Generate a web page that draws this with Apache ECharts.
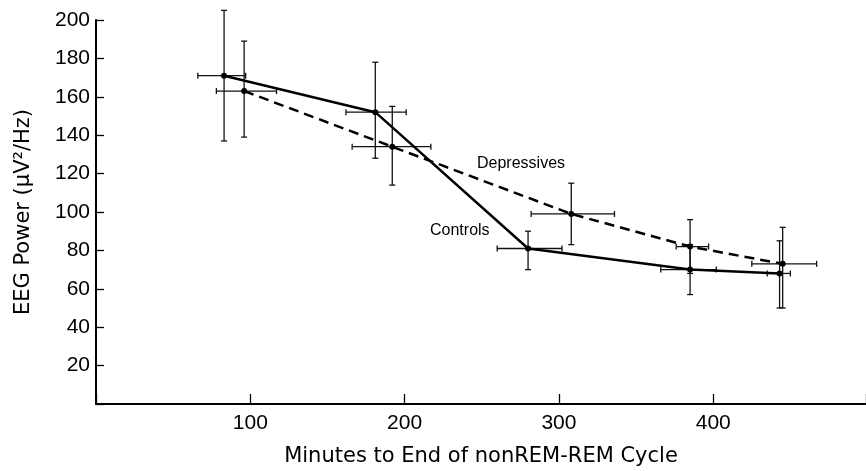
<!DOCTYPE html>
<html>
<head>
<meta charset="utf-8">
<script src="https://cdn.jsdelivr.net/npm/echarts@6/dist/echarts.min.js"></script>
<style>
    html, body { margin: 0; padding: 0; background: #fff; }
    #chart { width: 866px; height: 471px; }
</style>
</head>
<body>
<div id="chart"></div>
<script>
    // Controls
    var ctrlX   = [83, 181, 280, 385, 443];
    var ctrlY   = [171, 152, 81, 70, 68];
    var ctrlYLo = [137, 128, 70, 57, 50];
    var ctrlYHi = [205, 178, 90, 83, 85];
    var ctrlXLo = [66, 162, 260, 366, 435];
    var ctrlXHi = [97, 201, 302, 402, 450];

    // Depressives
    var depX   = [96, 192, 308, 385, 445];
    var depY   = [163, 134, 99, 82, 73];
    var depYLo = [139, 114, 83, 68, 50];
    var depYHi = [189, 155, 115, 96, 92];
    var depXLo = [78, 166, 282, 376, 425];
    var depXHi = [117, 217, 336, 397, 467];

    var xTicks = [100, 200, 300, 400];
    var yTicks = [20, 40, 60, 80, 100, 120, 140, 160, 180, 200];

    var font = 'Liberation Sans, Arial, sans-serif';
    var titleFont = 'DejaVu Sans, sans-serif';

    function pairs(xs, ys) {
        var out = [];
        for (var i = 0; i < xs.length; i++) out.push([xs[i], ys[i]]);
        return out;
    }

    function errRows(xs, ys, xlo, xhi, ylo, yhi) {
        var out = [];
        for (var i = 0; i < xs.length; i++) out.push([xs[i], ys[i], xlo[i], xhi[i], ylo[i], yhi[i]]);
        return out;
    }

    function renderErr(params, api) {
        var c = api.coord([api.value(0), api.value(1)]);
        var l = api.coord([api.value(2), api.value(1)]);
        var r = api.coord([api.value(3), api.value(1)]);
        var b = api.coord([api.value(0), api.value(4)]);
        var t = api.coord([api.value(0), api.value(5)]);
        var cap = 3;
        var st = { stroke: '#111', lineWidth: 1.3 };
        function ln(x1, y1, x2, y2) {
            return { type: 'line', shape: { x1: x1, y1: y1, x2: x2, y2: y2 }, style: st };
        }
        return {
            type: 'group',
            children: [
                ln(c[0], b[1], c[0], t[1]),
                ln(c[0] - cap, b[1], c[0] + cap, b[1]),
                ln(c[0] - cap, t[1], c[0] + cap, t[1]),
                ln(l[0], c[1], r[0], c[1]),
                ln(l[0], c[1] - cap, l[0], c[1] + cap),
                ln(r[0], c[1] - cap, r[0], c[1] + cap)
            ]
        };
    }

    var myChart = echarts.init(document.getElementById('chart'));
    var option = {
        animation: false,
        backgroundColor: '#fff',
        grid: { left: 96, right: 0, top: 20, bottom: 67, containLabel: false, outerBoundsMode: 'none' },
        xAxis: {
            type: 'value',
            min: 0,
            max: 499,
            interval: 100,
            name: 'Minutes to End of nonREM-REM Cycle',
            nameLocation: 'middle',
            nameGap: 42,
            nameTextStyle: { fontFamily: titleFont, fontSize: 21, color: '#000' },
            splitLine: { show: false },
            axisLine: { lineStyle: { color: '#000', width: 2 } },
            axisTick: { inside: true, length: 10, lineStyle: { color: '#000', width: 1.3 } },
            axisLabel: {
                margin: 9,
                fontFamily: font,
                fontSize: 21,
                color: '#000',
                formatter: function (v) { return xTicks.indexOf(v) >= 0 ? String(v) : ''; }
            }
        },
        yAxis: {
            type: 'value',
            min: 0,
            max: 200,
            interval: 20,
            name: 'EEG Power (\u03bcV\u00b2/Hz)',
            nameLocation: 'middle',
            nameGap: 62,
            nameRotate: 90,
            nameTextStyle: { fontFamily: titleFont, fontSize: 21, color: '#000' },
            splitLine: { show: false },
            axisLine: { lineStyle: { color: '#000', width: 2 } },
            axisTick: { inside: true, length: 8, lineStyle: { color: '#000', width: 1.3 } },
            axisLabel: {
                margin: 6,
                fontFamily: font,
                fontSize: 21,
                color: '#000',
                formatter: function (v) { return yTicks.indexOf(v) >= 0 ? String(v) : ''; }
            }
        },
        graphic: [
            { type: 'text', left: 477, top: 156, style: { text: 'Depressives', font: '16px ' + font, fill: '#000' } },
            { type: 'text', left: 430, top: 223, style: { text: 'Controls', font: '16px ' + font, fill: '#000' } }
        ],
        series: [
            {
                name: 'Controls err',
                type: 'custom',
                renderItem: renderErr,
                data: errRows(ctrlX, ctrlY, ctrlXLo, ctrlXHi, ctrlYLo, ctrlYHi),
                z: 2
            },
            {
                name: 'Depressives err',
                type: 'custom',
                renderItem: renderErr,
                data: errRows(depX, depY, depXLo, depXHi, depYLo, depYHi),
                z: 2
            },
            {
                name: 'Controls',
                type: 'line',
                data: pairs(ctrlX, ctrlY),
                symbol: 'circle',
                symbolSize: 6,
                itemStyle: { color: '#000' },
                lineStyle: { color: '#000', width: 2.5 },
                z: 3
            },
            {
                name: 'Depressives',
                type: 'line',
                data: pairs(depX, depY),
                symbol: 'circle',
                symbolSize: 6,
                itemStyle: { color: '#000' },
                lineStyle: { color: '#000', width: 2.5, type: [10, 6] },
                z: 3
            }
        ]
    };
    myChart.setOption(option);
</script>
</body>
</html>
